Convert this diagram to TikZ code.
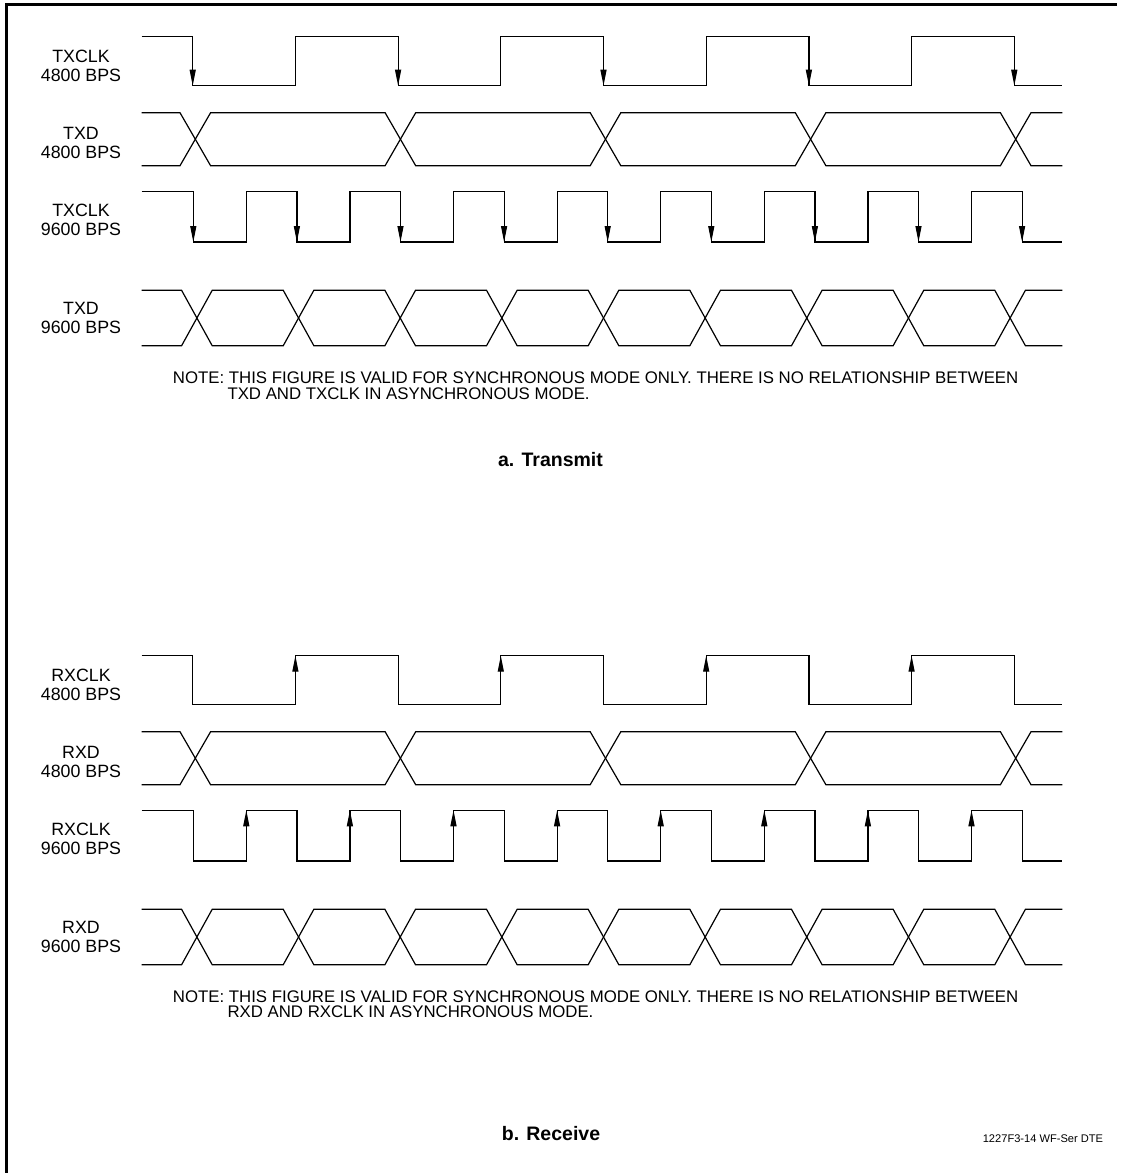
\documentclass[tikz,border=0pt]{standalone}
\usepackage{fontspec}
\setmainfont{Liberation Sans}
\usetikzlibrary{arrows.meta}
\newcommand{\clkslow}[2]{% #1 high y, #2 low y
  \draw[wave] (141.7,#1) \foreach \k in {0,2,4,6}{ -- ({192.7+102.7*\k},#1) -- ({192.7+102.7*\k},#2) -- ({192.7+102.7*(\k+1)},#2) -- ({192.7+102.7*(\k+1)},#1)} -- (1014.3,#1) -- (1014.3,#2) -- (1062.3,#2);}
\newcommand{\clkfast}[2]{%
  \draw[wave] (141.7,#1) \foreach \k in {0,...,7}{ -- ({193.3+103.6*\k},#1) -- ({193.3+103.6*\k},#2) -- ({246.3+103.6*\k},#2) -- ({246.3+103.6*\k},#1)} -- (1022.1,#1) -- (1022.1,#2) -- (1062.3,#2);}
\newcommand{\busline}[6]{% #1 start y, #2 other y, #3 first crossing, #4 spacing, #5 pair list, #6 last index
  \draw[wave] (141.7,#1) \foreach \k in {#5}{ -- ({#3+#4*\k-15.3},#1) -- ({#3+#4*\k+15.3},#2) -- ({#3+#4*(\k+1)-15.3},#2) -- ({#3+#4*(\k+1)+15.3},#1)} -- ({#3+#4*#6-15.3},#1) -- ({#3+#4*#6+15.3},#2) -- (1062.3,#2);}
\begin{document}
\begin{tikzpicture}[x=1pt,y=-1pt,
  wave/.style={line width=1.2pt, line join=miter},
  clkarrow/.style={-{Triangle[length=16pt,width=6pt]}, line width=1.2pt},
  lbl/.style={anchor=base, inner sep=0pt, font=\fontsize{17.8}{19}\selectfont},
  notetxt/.style={anchor=base west, inner sep=0pt, font=\fontsize{16.8}{18}\selectfont},
  titletxt/.style={anchor=base, inner sep=0pt, font=\fontsize{19.5}{22}\selectfont\bfseries},
  codetxt/.style={anchor=base east, inner sep=0pt, font=\fontsize{11.1}{13}\selectfont}]
\useasboundingbox (0,0) rectangle (1123,1173);
\fill[white] (0,0) rectangle (1123,1173);
% frame
\draw[line width=2.5pt] (6.7,1173) -- (6.7,4.7) -- (1117,4.7);

% ---------- Transmit ----------
\node[lbl] (txclkA1) at (81,62.7) {TXCLK};
\node[lbl] (txclkA2) at (81,81.7) {4800 BPS};
\node[lbl] (txdA1) at (81,139.4) {TXD};
\node[lbl] (txdA2) at (81,158.3) {4800 BPS};
\node[lbl] (txclkB1) at (81,216.3) {TXCLK};
\node[lbl] (txclkB2) at (81,235.3) {9600 BPS};
\node[lbl] (txdB1) at (81,314.3) {TXD};
\node[lbl] (txdB2) at (81,333.3) {9600 BPS};

\clkslow{36.7}{85.7}
\foreach \k in {0,2,4,6,8} \draw[clkarrow] ({192.7+102.7*\k},36.7) -- ({192.7+102.7*\k},85.7);
\busline{112.7}{165.7}{195.3}{205.1}{0,2}{4}
\busline{165.7}{112.7}{195.3}{205.1}{0,2}{4}
\clkfast{191.3}{242}
\foreach \k in {0,...,8} \draw[clkarrow] ({193.3+103.6*\k},191.3) -- ({193.3+103.6*\k},242);
\busline{290.3}{345.7}{196.9}{101.65}{0,2,4,6}{8}
\busline{345.7}{290.3}{196.9}{101.65}{0,2,4,6}{8}

\node[notetxt] (txnote1) at (172.7,383.3) {NOTE: THIS FIGURE IS VALID FOR SYNCHRONOUS MODE ONLY. THERE IS NO RELATIONSHIP BETWEEN};
\node[notetxt] (txnote2) at (227.3,399) {TXD AND TXCLK IN ASYNCHRONOUS MODE.};
\node[titletxt] (txtitle) at (550.5,466) {a. Transmit};

% ---------- Receive ----------
\node[lbl] (rxclkA1) at (81,681.7) {RXCLK};
\node[lbl] (rxclkA2) at (81,700.7) {4800 BPS};
\node[lbl] (rxdA1) at (81,758.4) {RXD};
\node[lbl] (rxdA2) at (81,777.3) {4800 BPS};
\node[lbl] (rxclkB1) at (81,835.3) {RXCLK};
\node[lbl] (rxclkB2) at (81,854.3) {9600 BPS};
\node[lbl] (rxdB1) at (81,933.3) {RXD};
\node[lbl] (rxdB2) at (81,952.3) {9600 BPS};

\clkslow{655.7}{704.7}
\foreach \k in {1,3,5,7} \draw[clkarrow] ({192.7+102.7*\k},704.7) -- ({192.7+102.7*\k},655.7);
\busline{731.7}{784.7}{195.3}{205.1}{0,2}{4}
\busline{784.7}{731.7}{195.3}{205.1}{0,2}{4}
\clkfast{810.3}{861}
\foreach \k in {0,...,7} \draw[clkarrow] ({246.3+103.6*\k},861) -- ({246.3+103.6*\k},810.3);
\busline{909.3}{964.7}{196.9}{101.65}{0,2,4,6}{8}
\busline{964.7}{909.3}{196.9}{101.65}{0,2,4,6}{8}

\node[notetxt] (rxnote1) at (172.7,1002) {NOTE: THIS FIGURE IS VALID FOR SYNCHRONOUS MODE ONLY. THERE IS NO RELATIONSHIP BETWEEN};
\node[notetxt] (rxnote2) at (227.3,1017.5) {RXD AND RXCLK IN ASYNCHRONOUS MODE.};
\node[titletxt] (rxtitle) at (551,1140.7) {b. Receive};
\node[codetxt] (figcode) at (1103.3,1142) {1227F3-14 WF-Ser DTE};
\end{tikzpicture}
\end{document}
